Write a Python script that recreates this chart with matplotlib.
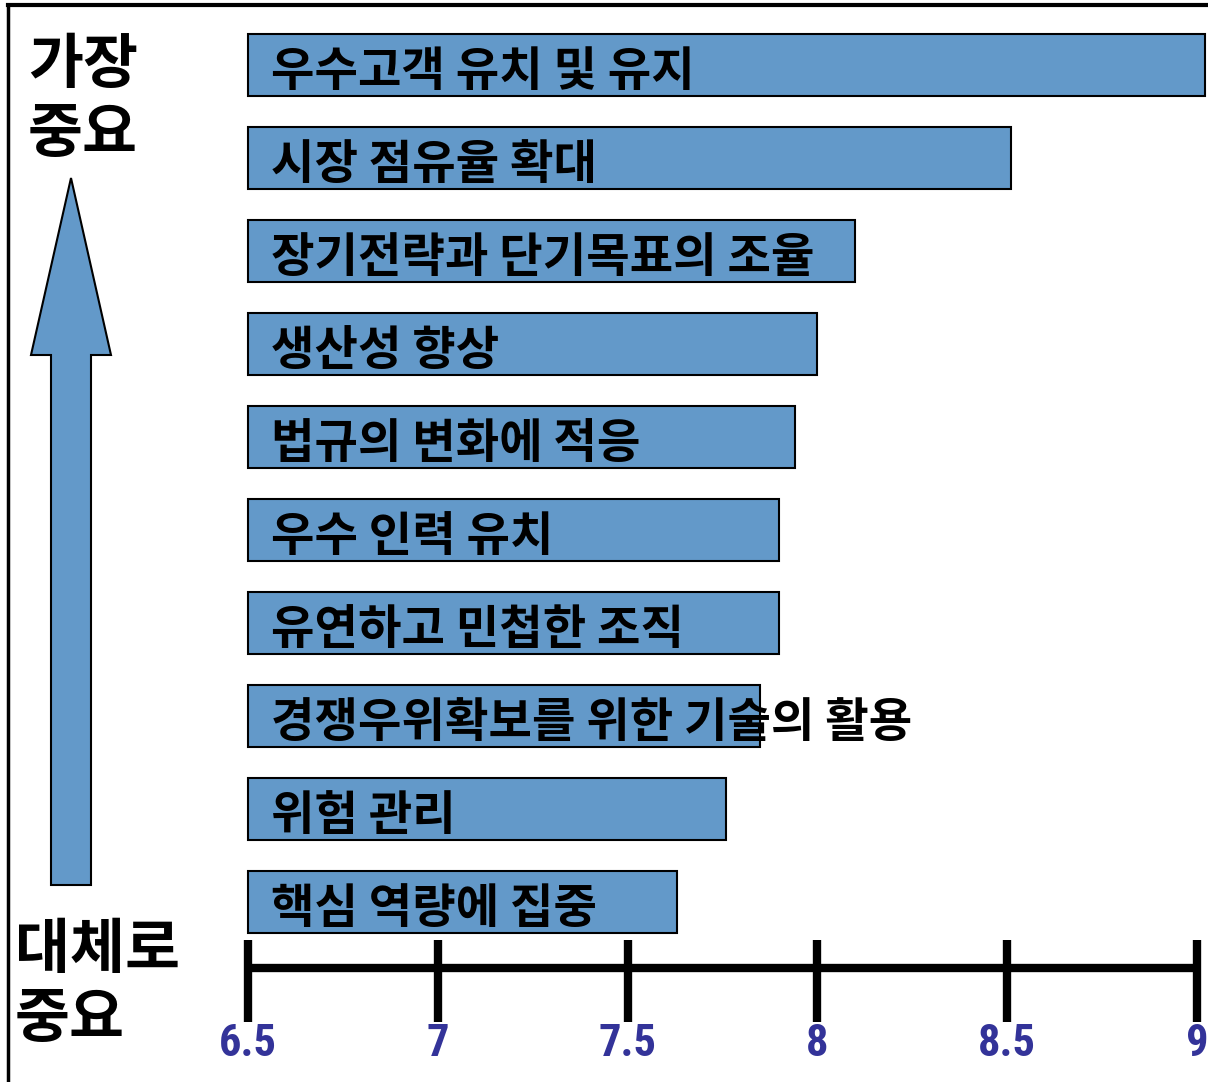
import matplotlib.pyplot as plt
import matplotlib.patches as mpatches
from matplotlib.transforms import blended_transform_factory
from matplotlib import font_manager

plt.rcParams['font.family'] = ['Noto Sans CJK KR', 'DejaVu Sans']

# data
items = ['우수고객 유치 및 유지', '시장 점유율 확대', '장기전략과 단기목표의 조율',
         '생산성 향상', '법규의 변화에 적응', '우수 인력 유치',
         '유연하고 민첩한 조직', '경쟁우위확보를 위한 기술의 활용',
         '위험 관리', '핵심 역량에 집중']
scores = [9.02, 8.51, 8.10, 8.00, 7.94, 7.90, 7.90, 7.85, 7.76, 7.63]
ticks = [6.5, 7, 7.5, 8, 8.5, 9]
tick_labels = ['6.5', '7', '7.5', '8', '8.5', '9']

# pick a narrow font for the tick numbers if one is installed
names = {f.name for f in font_manager.fontManager.ttflist}
narrow = [n for n in ['Liberation Sans Narrow', 'Roboto Condensed', 'DejaVu Sans Condensed']
          if n in names]
num_family = narrow + ['Roboto', 'DejaVu Sans']

W, H = 1208, 1082
fig = plt.figure(figsize=(W / 100, H / 100), dpi=100)

# axes: x 6.5 -> px 248, 9 -> px 1197; bottom axis line at px 968
x0, x1 = 248, 1197
ax = fig.add_axes([x0 / W, (H - 968) / H, (x1 - x0) / W, 968 / H])
ax.set_xlim(6.5, 9)
ax.set_ylim((968 - 65) / 93, -65 / 93)
ax.set_facecolor('none')
for s in ax.spines.values():
    s.set_visible(False)
ax.set_xticks([])
ax.set_yticks([])

base = 6.5
ypos = list(range(len(items)))
ax.barh(ypos, [v - base for v in scores], left=base, height=0.67,
        color='#6399c9', edgecolor='black', linewidth=1.5, clip_on=False, zorder=2)
for y, t in zip(ypos, items):
    ax.text(6.56, y + 0.07, t, fontsize=34, fontweight='bold', va='center', ha='left',
            color='black', zorder=3)

# axis line and ticks
tr = blended_transform_factory(ax.transData, ax.transAxes)
ax.plot([6.5, 9], [0, 0], transform=tr,
        color='black', lw=6, clip_on=False, solid_capstyle='butt', zorder=4)
for t, lab in zip(ticks, tick_labels):
    ax.plot([t, t], [28 / 968, -54 / 968], transform=tr, color='black', lw=6,
            clip_on=False, solid_capstyle='butt', zorder=4)
    ax.text(t, -55 / 968, lab, transform=tr, ha='center', va='top', fontsize=32,
            fontweight='bold', color='#333399', family=num_family,
            fontstretch='condensed')

# side labels
fig.text(28 / W, 1 - 36 / H, '가장\n중요', fontsize=43, fontweight='bold',
         va='top', ha='left', linespacing=1.2)
fig.text(15 / W, 1 - 921 / H, '대체로\n중요', fontsize=43, fontweight='bold',
         va='top', ha='left', linespacing=1.2)

# arrow
pts = [(71, 178), (111, 355), (91, 355), (91, 885), (51, 885), (51, 355), (31, 355)]
arrow = mpatches.Polygon([(px / W, 1 - py / H) for px, py in pts], closed=True,
                         transform=fig.transFigure, facecolor='#6399c9',
                         edgecolor='black', linewidth=1.5)
fig.add_artist(arrow)

# frame lines (left and top)
fig.add_artist(plt.Line2D([8 / W, 8 / W], [0, 1 - 5 / H], transform=fig.transFigure,
                          color='black', lw=2.5))
fig.add_artist(plt.Line2D([8 / W, 1], [1 - 5 / H, 1 - 5 / H], transform=fig.transFigure,
                          color='black', lw=3))

fig.savefig('out.png', dpi=100)
